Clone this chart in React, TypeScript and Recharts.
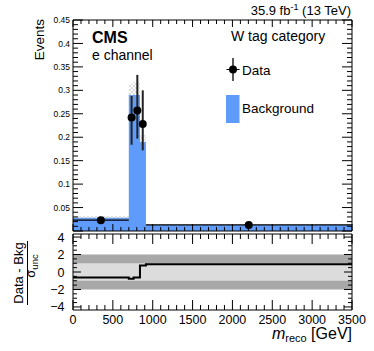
import React from 'react';
import {
  ComposedChart,
  Area,
  Line,
  Scatter,
  ErrorBar,
  XAxis,
  YAxis,
  ReferenceArea,
} from 'recharts';

// m_reco binning [GeV] and background histogram
const binEdges = [0, 700, 760, 840, 915, 3500];
const bkgYield = [0.028, 0.29, 0.29, 0.19, 0.013];
const bkgUncDown = [0.024, 0.27, 0.268, 0.178, 0.011];
const bkgUncUp = [0.032, 0.314, 0.318, 0.205, 0.015];
const pullValues = [-0.62, -0.78, -0.62, 0.75, 0.88];

// data points
const dataMass = [350, 735, 807, 875, 2205];
const dataMassErr = [350, 35, 35, 35, 1290];
const dataEvents = [0.023, 0.242, 0.257, 0.228, 0.013];
const dataErrDown = [0.003, 0.058, 0.06, 0.056, 0.003];
const dataErrUp = [0.003, 0.046, 0.076, 0.072, 0.003];

// axis ticks
const massMajorTicks = [0, 500, 1000, 1500, 2000, 2500, 3000, 3500];
const eventsMajorTicks = [0, 0.05, 0.1, 0.15, 0.2, 0.25, 0.3, 0.35, 0.4, 0.45];
const pullMajorTicks = [-4, -2, 0, 2, 4];

const massTicks: number[] = [];
for (let i = 0; i <= 35; i++) massTicks.push(i * 100);
const eventsTicks: number[] = [];
for (let i = 0; i <= 45; i++) eventsTicks.push(i / 100);
const pullTicks: number[] = [];
for (let i = -8; i <= 8; i++) pullTicks.push(i / 2);

const histData = binEdges.map((x, i) => {
  const b = Math.min(i, bkgYield.length - 1);
  return { x, bkg: bkgYield[b], unc: [bkgUncDown[b], bkgUncUp[b]], pull: pullValues[b] };
});

const pointData = dataMass.map((x, i) => ({
  x,
  y: dataEvents[i],
  ex: [dataMassErr[i], dataMassErr[i]],
  ey: [dataErrDown[i], dataErrUp[i]],
}));

const FONT = '"Liberation Sans", Arial, Helvetica, sans-serif';
const BLUE = '#5f9bfb';

const isMassMajor = (v: number) => massMajorTicks.includes(v);
const isEventsMajor = (v: number) => eventsMajorTicks.some((t) => Math.abs(t - v) < 1e-6);
const isPullMajor = (v: number) => pullMajorTicks.includes(v);

function xTick(dir: number, majorLen: number, minorLen: number, labels: boolean) {
  return (props: any) => {
    const { x, y, payload } = props;
    const v = payload.value;
    const major = isMassMajor(v);
    return (
      <g>
        <line x1={x} x2={x} y1={y} y2={y + dir * (major ? majorLen : minorLen)} stroke="#000" />
        {labels && major && (
          <text x={x} y={y + 13.5} textAnchor="middle" fontSize={12.5} fontFamily={FONT} fill="#000">
            {v}
          </text>
        )}
      </g>
    );
  };
}

function yTick(
  dir: number,
  majorLen: number,
  minorLen: number,
  isMajor: (v: number) => boolean,
  label?: (v: number) => string,
  labelX?: number,
  fontSize?: number
) {
  return (props: any) => {
    const { x, y, payload } = props;
    const v = payload.value;
    const major = isMajor(v);
    const text = label && major ? label(v) : '';
    return (
      <g>
        <line x1={x} x2={x + dir * (major ? majorLen : minorLen)} y1={y} y2={y} stroke="#000" />
        {text && (
          <text
            x={labelX}
            y={y + (fontSize || 10) * 0.36}
            textAnchor="end"
            fontSize={fontSize}
            fontFamily={FONT}
            fill="#000"
          >
            {text}
          </text>
        )}
      </g>
    );
  };
}

const eventsLabel = (v: number) => (v < 1e-6 ? '' : String(Math.round(v * 100) / 100));
const pullLabel = (v: number) => (v < 0 ? '\u2212' + Math.abs(v) : String(v));

// axes get 1px boxes (0 would hide them); ticks are drawn by the tick renderers
const axisCommon = {
  tickSize: 0,
  tickMargin: 0,
  tickLine: false,
  interval: 0 as const,
  allowDataOverflow: true,
  axisLine: { stroke: '#000' },
  type: 'number' as const,
};

function UpperPanel() {
  return (
    <ComposedChart
      width={374}
      height={240}
      data={histData}
      margin={{ top: 19, right: 21, bottom: 8, left: 72 }}
    >
      <XAxis {...axisCommon} dataKey="x" domain={[0, 3500]} ticks={massTicks} height={1} tick={xTick(-1, 7, 4, false)} />
      <XAxis
        {...axisCommon}
        xAxisId="top"
        orientation="top"
        dataKey="x"
        domain={[0, 3500]}
        ticks={massTicks}
        height={1}
        tick={xTick(1, 7, 4, false)}
      />
      <YAxis
        {...axisCommon}
        domain={[0, 0.45]}
        ticks={eventsTicks}
        width={1}
        tick={yTick(1, 10, 5, isEventsMajor, eventsLabel, 70, 8.5)}
      />
      <YAxis
        {...axisCommon}
        yAxisId="right"
        orientation="right"
        domain={[0, 0.45]}
        ticks={eventsTicks}
        width={1}
        tick={yTick(-1, 10, 5, isEventsMajor)}
      />
      <Area
        type="stepAfter"
        dataKey="bkg"
        stroke="none"
        fill={BLUE}
        fillOpacity={1}
        isAnimationActive={false}
      />
      <Area
        type="stepAfter"
        dataKey="unc"
        stroke="none"
        fill="url(#uncHatch)"
        fillOpacity={1}
        isAnimationActive={false}
      />
      <Scatter
        data={pointData}
        dataKey="y"
        fill="#000"
        isAnimationActive={false}
        shape={(p: any) => <circle cx={p.cx} cy={p.cy} r={4} fill="#000" />}
      >
        <ErrorBar dataKey="ey" direction="y" width={0} stroke="#222" strokeWidth={2} />
        <ErrorBar dataKey="ex" direction="x" width={0} stroke="#000" strokeWidth={1.3} />
      </Scatter>
    </ComposedChart>
  );
}

function LowerPanel() {
  return (
    <ComposedChart
      width={374}
      height={131}
      data={histData}
      margin={{ top: 13, right: 21, bottom: 40, left: 72 }}
    >
      <XAxis {...axisCommon} dataKey="x" domain={[0, 3500]} ticks={massTicks} height={1} tick={xTick(-1, 10, 5, true)} />
      <XAxis
        {...axisCommon}
        xAxisId="top"
        orientation="top"
        dataKey="x"
        domain={[0, 3500]}
        ticks={massTicks}
        height={1}
        tick={xTick(1, 10, 5, false)}
      />
      <YAxis
        {...axisCommon}
        domain={[-4.35, 4.35]}
        ticks={pullTicks}
        width={1}
        tick={yTick(1, 8, 4, isPullMajor, pullLabel, 64.5, 12.5)}
      />
      <YAxis
        {...axisCommon}
        yAxisId="right"
        orientation="right"
        domain={[-4.35, 4.35]}
        ticks={pullTicks}
        width={1}
        tick={yTick(-1, 8, 4, isPullMajor)}
      />
      <ReferenceArea x1={0} x2={3500} y1={-2} y2={2} fill="#a8a8a8" fillOpacity={1} stroke="none" />
      <ReferenceArea x1={0} x2={3500} y1={-1} y2={1} fill="#dcdcdc" fillOpacity={1} stroke="none" />
      <Line
        type="stepAfter"
        dataKey="pull"
        stroke="#000"
        strokeWidth={2}
        dot={false}
        isAnimationActive={false}
      />
    </ComposedChart>
  );
}

export default function App() {
  return (
    <div style={{ position: 'absolute', left: 0, top: 0, width: 374, height: 351, background: '#fff' }}>
      <svg width={0} height={0} style={{ position: 'absolute' }}>
        <defs>
          <pattern id="uncHatch" width={4} height={4} patternUnits="userSpaceOnUse">
            <path d="M0,4 L4,0 M0,0 L4,4" stroke="#9a9a9a" strokeWidth={0.6} strokeOpacity={0.6} />
          </pattern>
        </defs>
      </svg>
      <div style={{ position: 'absolute', left: 0, top: 0 }}>
        <UpperPanel />
      </div>
      <div style={{ position: 'absolute', left: 0, top: 220 }}>
        <LowerPanel />
      </div>
      <svg
        width={374}
        height={351}
        style={{ position: 'absolute', left: 0, top: 0, pointerEvents: 'none' }}
        fontFamily={FONT}
      >
        <text x={351} y={15} textAnchor="end" fontSize={13}>
          35.9 fb<tspan dy={-5} fontSize={9}>-1</tspan>
          <tspan dy={5}> (13 TeV)</tspan>
        </text>
        <text x={92} y={43} fontSize={16} fontWeight="bold">CMS</text>
        <text x={92} y={60} fontSize={14}>e channel</text>
        <text x={231} y={41} fontSize={14}>W tag category</text>

        <line x1={233} x2={233} y1={58} y2={81} stroke="#222" strokeWidth={1.5} />
        <line x1={226.5} x2={239.5} y1={69.5} y2={69.5} stroke="#000" strokeWidth={1} />
        <circle cx={233} cy={69.5} r={4} fill="#000" />
        <text x={242} y={74.5} fontSize={13.5}>Data</text>
        <rect x={226} y={95} width={13.5} height={28} fill={BLUE} />
        <text x={242} y={113} fontSize={13.5}>Background</text>

        <text transform="translate(43.5,19) rotate(-90)" textAnchor="end" fontSize={13.5}>
          Events
        </text>

        <text transform="translate(23,273) rotate(-90)" textAnchor="middle" fontSize={13}>
          Data - Bkg
        </text>
        <line x1={27.5} x2={27.5} y1={241} y2={305} stroke="#000" strokeWidth={1} />
        <text transform="translate(35,266) rotate(-90)" textAnchor="middle" fontSize={13}>
          σ<tspan dy={2.5} fontSize={9.5}>unc</tspan>
        </text>

        <text x={352} y={339} textAnchor="end" fontSize={16}>
          <tspan fontStyle="italic">m</tspan>
          <tspan dy={3} fontSize={11}>reco</tspan>
          <tspan dy={-3}> [GeV]</tspan>
        </text>
      </svg>
    </div>
  );
}
